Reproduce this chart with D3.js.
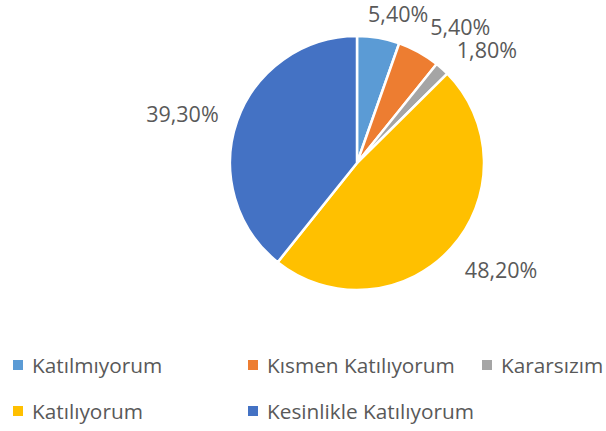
<!DOCTYPE html>
<html><head><meta charset="utf-8">
<script src="https://cdn.jsdelivr.net/npm/d3@7"></script>
<style>html,body{margin:0;padding:0;background:#fff;}svg{display:block;}</style>
</head><body>
<svg id="chart" width="606" height="431"></svg>
<script>
const categories = ["Katılmıyorum", "Kısmen Katılıyorum", "Kararsızım", "Katılıyorum", "Kesinlikle Katılıyorum"];
const values = [5.4, 5.4, 1.8, 48.2, 39.3];
const valueLabels = ["5,40%", "5,40%", "1,80%", "48,20%", "39,30%"];
const colors = ["#5B9BD5", "#ED7D31", "#A5A5A5", "#FFC000", "#4472C4"];

const svg = d3.select("#chart");
const cx = 357, cy = 163, R = 127;
const font = "'Open Sans', 'Noto Sans', sans-serif";
const textColor = "#595959";

const pie = d3.pie().sort(null).value(d => d)(values);
const arc = d3.arc().innerRadius(0).outerRadius(R);
const g = svg.append("g").attr("transform", `translate(${cx},${cy})`);
g.selectAll("path").data(pie).join("path")
  .attr("d", arc)
  .attr("fill", (d, i) => colors[i])
  .attr("stroke", "#fff")
  .attr("stroke-width", 2.5)
  .attr("stroke-linejoin", "round");

const labelArc = d3.arc().innerRadius(R + 40).outerRadius(R + 40);
const nudges = [[13, 15], [22, 9], [18, 10], [20, -5], [-17, 6]];
g.selectAll("text.lbl").data(pie).join("text")
  .attr("class", "lbl")
  .attr("x", (d, i) => labelArc.centroid(d)[0] + nudges[i][0])
  .attr("y", (d, i) => labelArc.centroid(d)[1] + nudges[i][1])
  .attr("text-anchor", "middle")
  .attr("dominant-baseline", "central")
  .attr("font-family", font)
  .attr("font-size", 21.5)
  .attr("fill", textColor)
  .text((d, i) => valueLabels[i]);

// Legend
const colX = [18, 253, 487];
const rowY = [365, 411];
const legendPos = [[0, 0], [1, 0], [2, 0], [0, 1], [1, 1]];
const lg = svg.append("g");
categories.forEach((c, i) => {
  const [col, row] = legendPos[i];
  const x = colX[col], y = rowY[row];
  lg.append("rect").attr("x", x - 5).attr("y", y - 5).attr("width", 10).attr("height", 10).attr("fill", colors[i]);
  lg.append("text").attr("x", x + 14).attr("y", y)
    .attr("dominant-baseline", "central")
    .attr("font-family", font).attr("font-size", 20.8)
    .attr("fill", textColor).text(c);
});
</script>
</body></html>
